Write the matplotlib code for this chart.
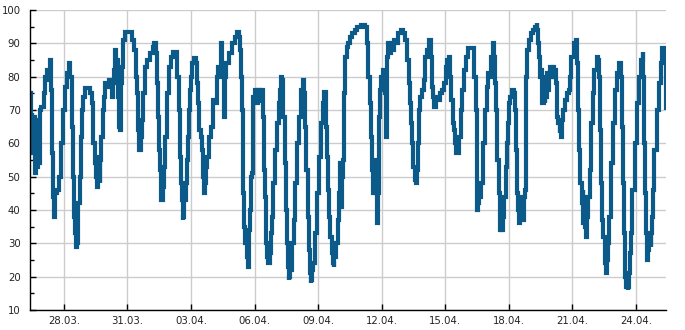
import matplotlib
matplotlib.use("Agg")
import matplotlib.pyplot as plt
import matplotlib.dates as mdates
from matplotlib.ticker import MultipleLocator
import pandas as pd

hours = [0, 1, 2, 3, 5, 6, 7, 8, 9, 10, 11, 14, 16, 18, 20, 22, 23, 24, 25, 26,
         27, 28, 29, 32, 34, 36, 38, 41, 43, 45, 46, 48, 49, 50, 51, 52, 53, 54, 55, 57,
         58, 59, 61, 63, 67, 69, 70, 71, 72, 74, 75, 76, 77, 78, 79, 80, 81, 83, 84, 86,
         88, 91, 93, 94, 95, 96, 97, 98, 100, 101, 102, 103, 104, 105, 106, 109, 114, 117, 119, 120,
         121, 122, 123, 124, 126, 127, 129, 131, 134, 137, 140, 141, 143, 144, 145, 146, 147, 148, 149, 151,
         152, 154, 156, 158, 161, 163, 166, 167, 169, 170, 171, 172, 173, 174, 175, 177, 178, 179, 180, 181,
         182, 184, 187, 188, 189, 190, 192, 194, 195, 196, 197, 198, 199, 201, 204, 206, 207, 208, 210, 212,
         213, 215, 216, 217, 218, 220, 221, 222, 224, 226, 230, 233, 235, 237, 238, 239, 240, 241, 242, 243,
         244, 246, 247, 248, 249, 250, 251, 252, 253, 255, 256, 257, 258, 259, 260, 261, 263, 264, 265, 266,
         267, 268, 269, 270, 272, 273, 274, 276, 278, 281, 282, 283, 285, 286, 287, 289, 290, 291, 292, 293,
         294, 295, 296, 298, 299, 301, 303, 306, 308, 310, 311, 312, 313, 315, 316, 317, 318, 319, 320, 321,
         324, 326, 328, 330, 332, 334, 335, 336, 337, 338, 339, 341, 342, 343, 344, 345, 347, 349, 350, 351,
         352, 353, 354, 355, 356, 358, 359, 361, 363, 366, 369, 372, 378, 380, 382, 384, 385, 386, 387, 388,
         389, 390, 392, 393, 394, 395, 396, 397, 398, 401, 402, 403, 404, 405, 406, 407, 410, 411, 413, 415,
         419, 421, 423, 425, 428, 430, 431, 432, 433, 435, 436, 437, 438, 439, 440, 441, 442, 445, 446, 448,
         450, 453, 454, 455, 456, 457, 458, 461, 463, 465, 467, 470, 471, 473, 475, 476, 478, 479, 480, 481,
         483, 485, 487, 488, 490, 492, 495, 496, 502, 504, 505, 506, 507, 508, 509, 510, 511, 514, 516, 518,
         519, 521, 523, 525, 526, 527, 528, 530, 531, 532, 533, 534, 535, 536, 538, 540, 541, 542, 543, 544,
         547, 549, 550, 551, 552, 553, 554, 556, 557, 558, 559, 560, 561, 562, 564, 566, 568, 570, 573, 574,
         575, 576, 577, 578, 579, 581, 582, 583, 584, 585, 586, 587, 588, 590, 592, 593, 594, 595, 596, 597,
         599, 600, 601, 602, 603, 604, 607, 609, 611, 612, 614, 617, 619, 620, 621, 622, 624, 625, 626, 627,
         628, 629, 630, 631, 633, 634, 636, 638, 640, 643, 644, 645, 646, 647, 648, 650, 651, 652, 653, 654,
         655, 656, 659, 661, 663, 665, 668, 669, 670, 671, 672, 673, 674, 676, 677, 678, 679, 680, 681, 683,
         686, 688, 690, 693, 694, 695, 696, 697, 698, 699, 700, 702, 703, 704, 705, 706, 708, 711, 713, 715,
         717, 719, 720]

values = [75, 62, 69, 57, 68, 51, 65, 53, 67, 54, 70, 71, 75, 80, 82, 79, 85, 76, 57, 44,
          38, 40, 45, 46, 50, 60, 70, 77, 81, 84, 80, 65, 50, 38, 33, 29, 30, 36, 42, 50,
          62, 70, 74, 76.5, 76.5, 75, 72, 66, 60, 54, 50, 47, 52, 56, 48, 55, 62, 70, 74, 78,
          77, 79, 74, 78, 82, 86, 88, 85, 74, 65, 64, 78, 83, 86, 91, 93.5, 93.5, 91, 88, 80,
          75, 70, 64, 58, 62, 67, 75, 83, 85, 87, 89, 90, 87, 78, 68, 58, 52, 46, 43, 47,
          53, 62, 75, 83, 86, 87.5, 87.5, 80, 70, 56, 48, 43, 37, 38, 43, 48, 55, 62, 70, 76,
          80, 84, 85.5, 84, 78, 72, 64, 62, 58, 50, 45, 48, 53, 56, 62, 65, 70, 73, 72, 80,
          83, 82, 87, 90, 80, 68, 80, 84, 84, 87, 90, 92, 93.5, 92, 88, 80, 70, 56, 45, 35,
          30, 26, 23, 34, 40, 46, 50, 51, 74, 76, 74, 72, 76, 72, 76, 74, 76, 68, 52, 44,
          36, 30, 26, 24, 27, 33, 38, 48, 58, 66, 72, 76, 80, 79, 68, 54, 40, 30, 23, 19,
          20, 25, 22, 30, 37, 48, 60, 68, 76, 79, 75, 65, 52, 38, 28, 21, 18, 19, 22, 24,
          33, 45, 56, 66, 72, 75.5, 73, 65, 56, 46, 38, 32, 27, 24, 23, 26, 30, 37, 45, 54,
          46, 41, 50, 55, 75, 86, 89, 90, 92, 93, 94, 95, 95.5, 95, 90, 80, 72, 62, 57, 52,
          45, 55, 45, 36, 45, 58, 68, 76, 80, 82, 75, 62, 76, 86, 90, 87, 90, 88, 91, 90,
          93, 94, 93, 91, 85, 78, 72, 66, 60, 53, 49, 48, 50, 52, 60, 70, 74, 76, 79, 86,
          88, 91, 86, 80, 77, 74, 71, 74, 73, 75, 76, 78, 83, 85, 86, 80, 73, 66, 64, 60,
          57, 57, 62, 70, 76, 82, 86, 88.5, 88.5, 80, 70, 55, 40, 42, 47, 44, 48, 60, 70, 77,
          81, 80, 86, 90, 86, 78, 70, 55, 45, 38, 34, 35, 34, 38, 44, 53, 60, 66, 72, 74,
          76, 75, 70, 58, 45, 40, 36, 44, 38, 42, 37, 44, 46, 80, 88, 91, 93, 94, 95, 96,
          94, 90, 86, 80, 82, 72, 80, 72, 78, 74, 81, 76, 80, 83, 80, 83, 80, 82, 78, 68,
          66, 63, 65, 62, 67, 70, 73, 75, 76, 80, 86, 90, 91, 84, 70, 58, 48, 42, 46, 36,
          44, 35, 32, 38, 44, 52, 66, 75, 82, 86, 85, 80, 64, 48, 37, 32, 29, 24, 21, 25,
          30, 38, 54, 66, 76, 81, 84, 84, 80, 65, 48, 33, 20, 17, 16, 17, 21, 27, 33, 46,
          60, 72, 80, 85, 87.5, 80, 60, 45, 33, 25, 28, 32, 29, 33, 38, 46, 58, 70, 78, 84,
          88.5, 86, 70]

start = pd.Timestamp("2019-03-26 10:00")
times = start + pd.to_timedelta(hours, unit="h")

# every third day gets a label
tick_days = pd.date_range("2019-03-28", "2019-04-24", freq="3D")

fig = plt.figure(figsize=(6.85, 3.3), dpi=100)
ax = fig.add_axes([0.0442, 0.0606, 0.928, 0.9091])

ax.plot(times, values, color="#0b5a8a", lw=3.0, drawstyle="steps-mid",
        solid_joinstyle="miter", solid_capstyle="butt")

ax.set_xlim(start, start + pd.Timedelta(hours=720))
ax.set_ylim(10, 100)

ax.set_xticks(tick_days)
ax.xaxis.set_major_formatter(mdates.DateFormatter("%d.%m."))
ax.yaxis.set_major_locator(MultipleLocator(10))
ax.yaxis.set_minor_locator(MultipleLocator(5))

ax.grid(True, which="major", color="#cccccc", lw=1)
ax.set_axisbelow(True)

for s in ["top", "right"]:
    ax.spines[s].set_visible(False)
for s in ["left", "bottom"]:
    ax.spines[s].set_color("black")
    ax.spines[s].set_linewidth(1)

ax.tick_params(axis="both", which="major", direction="in", length=4, width=1,
               labelsize=7.3, colors="black", labelcolor="#222222")
ax.tick_params(axis="y", which="major", pad=7)
ax.tick_params(axis="x", which="major", pad=4)
ax.tick_params(axis="y", which="minor", direction="in", length=3, width=1)

fig.savefig("out.png", dpi=100)
